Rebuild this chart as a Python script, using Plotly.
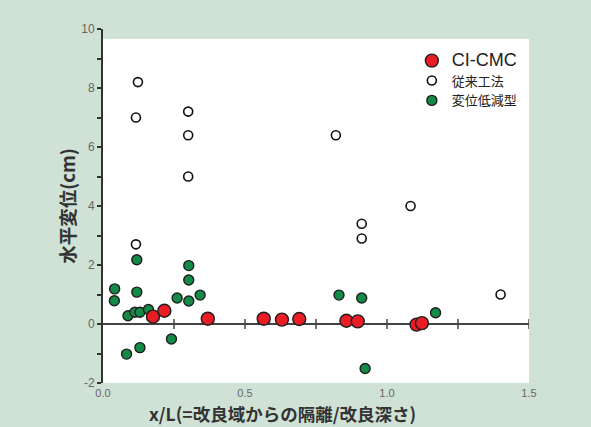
import plotly.graph_objects as go

# 従来工法 (open circles)
conv_x = [0.123, 0.116, 0.300, 0.300, 0.300, 0.116, 0.820, 0.911, 0.911, 1.083, 1.400]
conv_y = [8.2, 7.0, 7.2, 6.4, 5.0, 2.7, 6.4, 3.4, 2.9, 4.0, 1.0]

# 変位低減型 (green)
red_type_x = [0.041, 0.040, 0.088, 0.112, 0.130, 0.160, 0.119, 0.119, 0.083, 0.130,
              0.241, 0.261, 0.302, 0.302, 0.302, 0.342, 0.831, 0.911, 0.923, 1.171]
red_type_y = [1.19, 0.79, 0.28, 0.40, 0.40, 0.49, 2.18, 1.08, -1.02, -0.80,
              -0.51, 0.88, 1.98, 1.49, 0.78, 0.98, 0.98, 0.88, -1.51, 0.38]

# CI-CMC (red)
cmc_x = [0.176, 0.216, 0.369, 0.566, 0.630, 0.691, 0.857, 0.897, 1.104, 1.123]
cmc_y = [0.25, 0.45, 0.18, 0.18, 0.15, 0.17, 0.11, 0.09, -0.02, 0.03]

x_ticks = [0.0, 0.5, 1.0, 1.5]
x_tick_labels = ["0.0", "0.5", "1.0", "1.5"]
x_minor = [0.25, 0.5, 0.75, 1.0, 1.25, 1.5]
y_ticks = [-2, -1, 0, 1, 2, 3, 4, 5, 6, 7, 8, 9, 10]
y_tick_labels = ["-2", "", "0", "", "2", "", "4", "", "6", "", "8", "", "10"]

BG = "#cfe2d5"
EDGE = "#1e1e1e"
CJK = "Noto Sans CJK JP"

fig = go.Figure()
fig.add_trace(go.Scatter(
    x=red_type_x, y=red_type_y, mode="markers", name="変位低減型", legendrank=3,
    marker=dict(size=10, color="#138a45", line=dict(color=EDGE, width=1.4))))
fig.add_trace(go.Scatter(
    x=conv_x, y=conv_y, mode="markers", name="従来工法", legendrank=2,
    marker=dict(size=9, color="white", line=dict(color="#111111", width=1.6))))
fig.add_trace(go.Scatter(
    x=cmc_x, y=cmc_y, mode="markers",
    name='<span style="font-size:18px;font-family:Liberation Sans, Arial">CI-CMC</span>',
    legendrank=1,
    marker=dict(size=13, color="#ea1c24", line=dict(color=EDGE, width=1.4))))

shapes = [
    dict(type="rect", xref="x", yref="y", x0=0, x1=1.5, y0=-2, y1=9.66,
         fillcolor="white", line=dict(width=0), layer="below"),
    dict(type="line", xref="x", yref="y", x0=0, x1=1.5, y0=0, y1=0,
         line=dict(color="#444444", width=2), layer="below"),
]
for t in x_minor:
    shapes.append(dict(type="line", xref="x", yref="y", ysizemode="pixel", yanchor=0,
                       x0=t, x1=t, y0=-5, y1=5,
                       line=dict(color="#444444", width=1.5), layer="below"))

fig.update_layout(
    width=591, height=427,
    margin=dict(l=103, r=62, t=29, b=44),
    paper_bgcolor=BG, plot_bgcolor=BG,
    shapes=shapes,
    showlegend=True,
    legend=dict(x=0.725, y=0.953, xanchor="left", yanchor="top",
                bgcolor="rgba(0,0,0,0)", itemsizing="trace", tracegroupgap=0,
                itemwidth=30,
                font=dict(family=CJK, size=13, color="#222222")),
    xaxis=dict(range=[0, 1.5], showgrid=False, zeroline=False, showline=False,
               tickvals=x_ticks, ticktext=x_tick_labels, ticks="",
               tickfont=dict(family="Liberation Sans Narrow, Arial", size=11, color="#666666"),
               ticklabelstandoff=2),
    yaxis=dict(range=[-2, 10], showgrid=False, zeroline=False, showline=True,
               linecolor="#333333", linewidth=2,
               tickvals=y_ticks, ticktext=y_tick_labels, ticks="outside",
               ticklen=4, tickwidth=1.5, tickcolor="#333333",
               tickfont=dict(family="Liberation Sans Narrow, Arial", size=12, color="#666666")),
    annotations=[
        dict(text="<b>水平変位(cm)</b>", xref="paper", yref="paper",
             x=-0.085, y=0.5, xanchor="center", yanchor="middle", textangle=-90,
             showarrow=False, font=dict(family=CJK, size=18.5, color="#333333")),
        dict(text="<b>x/L(=改良域からの隔離/改良深さ)</b>", xref="paper", yref="paper",
             x=0.104, y=-0.087, xanchor="left", yanchor="middle",
             showarrow=False, font=dict(family=CJK, size=17.5, color="#333333")),
    ],
)

fig.write_html("out.html", config={"displayModeBar": False},
               post_script="document.body.style.margin='0';document.body.style.padding='0';")
